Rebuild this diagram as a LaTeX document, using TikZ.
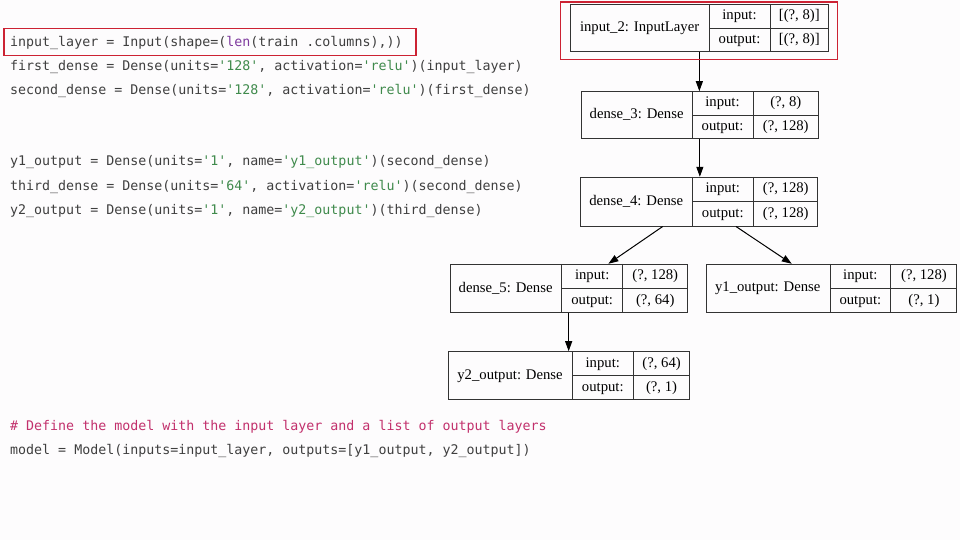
\documentclass[tikz,border=0pt]{standalone}
\usepackage{fontspec}
\setmonofont{DejaVu Sans Mono}
\newfontfamily\boxfont{Liberation Serif}
\usetikzlibrary{arrows.meta,positioning,calc,fit}
\definecolor{pagebg}{HTML}{FDFCFD}
\definecolor{codetext}{HTML}{3F3F3F}
\definecolor{strgreen}{HTML}{3F8A4C}
\definecolor{kwpurple}{HTML}{7E3A9E}
\definecolor{cmtpink}{HTML}{C2306C}
\definecolor{hired}{HTML}{CC2233}
\definecolor{boxline}{HTML}{333333}
\newcommand{\str}[1]{\textcolor{strgreen}{#1}}

% one Keras layer box: id, top-left, bottom-right, divider 1, divider 2, name, input, output
\newcommand{\layerbox}[8]{%
  \node[frame, fit={(#2) (#3)}] (#1) {};
  \coordinate (#1-d1) at (#4,0);
  \coordinate (#1-d2) at (#5,0);
  \draw[cell] (#1.north -| #1-d1) -- (#1.south -| #1-d1);
  \draw[cell] (#1.north -| #1-d2) -- (#1.south -| #1-d2);
  \draw[cell] (#1.center -| #1-d1) -- (#1.east);
  \node[boxtext] (#1-name) at ($(#1.west)!0.5!(#1.center -| #1-d1)$) {#6};
  \node[boxtext] (#1-inlbl) at ($(#1.north -| #1-d1)!0.5!(#1.center -| #1-d2)$) {input:};
  \node[boxtext] (#1-inval) at ($(#1.north -| #1-d2)!0.5!(#1.east)$) {#7};
  \node[boxtext] (#1-outlbl) at ($(#1.center -| #1-d1)!0.5!(#1.south -| #1-d2)$) {output:};
  \node[boxtext] (#1-outval) at ($(#1.center -| #1-d2)!0.5!(#1.south east)$) {#8};
}

\begin{document}
\begin{tikzpicture}[
  x=1pt, y=-1pt,
  code/.style={anchor=mid west, inner sep=0pt, text=codetext,
    font=\ttfamily\fontsize{13.3}{15}\selectfont},
  frame/.style={draw=boxline, line width=1pt, inner sep=0pt},
  cell/.style={draw=boxline, line width=1pt},
  boxtext/.style={anchor=mid, yshift=-1.5pt, inner sep=0pt, text=black,
    font=\boxfont\fontsize{14.7}{17}\selectfont},
  hilite/.style={draw=hired, line width=1.8pt},
  arr/.style={-{Triangle[length=10pt, width=7pt]}, black, line width=1pt},
]

% page
\fill[pagebg] (0,0) rectangle (960,540);

% Code cell
\node[code] (code1) at (10,44) {input\_layer = Input(shape=(\textcolor{kwpurple}{len}(train .columns),))};
\node[code] (code2) at (10,68.5) {first\_dense = Dense(units=\str{'128'}, activation=\str{'relu'})(input\_layer)};
\node[code] (code3) at (10,92) {second\_dense = Dense(units=\str{'128'}, activation=\str{'relu'})(first\_dense)};
\node[code] (code4) at (10,163.5) {y1\_output = Dense(units=\str{'1'}, name=\str{'y1\_output'})(second\_dense)};
\node[code] (code5) at (10,188.5) {third\_dense = Dense(units=\str{'64'}, activation=\str{'relu'})(second\_dense)};
\node[code] (code6) at (10,212) {y2\_output = Dense(units=\str{'1'}, name=\str{'y2\_output'})(third\_dense)};
\node[code, text=cmtpink] (comment) at (10,428) {\# Define the model with the input layer and a list of output layers};
\node[code] (code7) at (10,452.5) {model = Model(inputs=input\_layer, outputs=[y1\_output, y2\_output])};

% Model graph
\layerbox{input2}{570.7,4.3}{828,52}{709}{770}{input\_2: InputLayer}{[(?, 8)]}{[(?, 8)]}
\layerbox{dense3}{581.7,91.7}{818,138.5}{692}{753}{dense\_3: Dense}{(?, 8)}{(?, 128)}
\layerbox{dense4}{580.7,177.3}{817.7,226}{692.3}{753.3}{dense\_4: Dense}{(?, 128)}{(?, 128)}
\layerbox{dense5}{450,264.3}{687.3,312.7}{561.7}{622.7}{dense\_5: Dense}{(?, 128)}{(?, 64)}
\layerbox{yone}{706,264.3}{956.7,312.3}{830}{890.7}{y1\_output: Dense}{(?, 128)}{(?, 1)}
\layerbox{ytwo}{448.3,351.7}{689.3,399.3}{572.3}{633.3}{y2\_output: Dense}{(?, 64)}{(?, 1)}

% Connectors
\draw[arr] (input2.south) -- (input2.south |- dense3.north);
\draw[arr] (dense3.south) -- (dense3.south |- dense4.north);
\draw[arr] ([xshift=-36.5pt]dense4.south) -- ([xshift=39.7pt]dense5.north);
\draw[arr] ([xshift=36.8pt]dense4.south) -- ([xshift=-39.6pt]yone.north);
\draw[arr] (dense5.south) -- (dense5.south |- ytwo.north);

% Highlights
\draw[hilite] (4,28.5) rectangle (416,55.5);
\draw[hilite] (560.5,2) rectangle (837.5,59.5);

\end{tikzpicture}
\end{document}
